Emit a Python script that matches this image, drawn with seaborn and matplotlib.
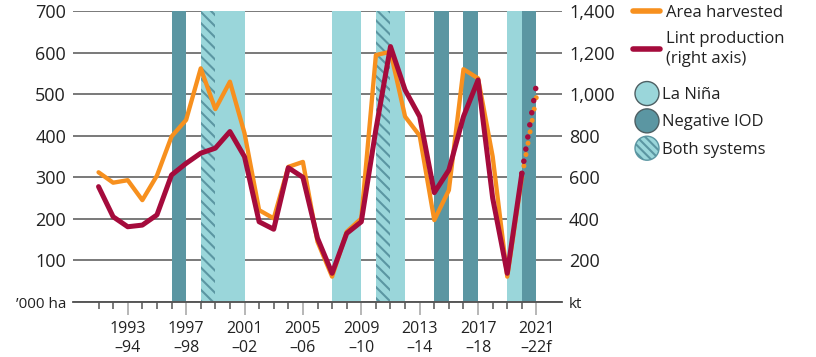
import numpy as np
import pandas as pd
import matplotlib
matplotlib.use("Agg")
import matplotlib.pyplot as plt
import matplotlib.patches as mpatches
from matplotlib.lines import Line2D
from matplotlib.legend_handler import HandlerPatch
import seaborn as sns

# data
years = list(range(1991, 2021))
area_ha = [312, 287, 293, 245, 304, 398, 438, 562, 464, 530, 406, 221, 201, 325, 337,
           145, 61, 169, 201, 594, 602, 446, 400, 197, 269, 560, 538, 350, 61, 300]
lint_kt = [555, 410, 362, 370, 419, 611, 667, 716, 740, 820, 699, 386, 350, 646, 600,
           307, 138, 330, 386, 830, 1229, 1020, 892, 526, 635, 892, 1068, 500, 138, 619]
fc_years = [2020, 2021]
fc_area = [300, 494]
fc_lint = [619, 1049]

# climate episodes (start year of each one-year band)
la_nina = [1999, 2000, 2007, 2008, 2011, 2019]
neg_iod = [1996, 2014, 2016, 2020]
both = [1998, 2010]

tick_years = list(range(1993, 2022, 4))
tick_labels = ["1993\n–94", "1997\n–98", "2001\n–02", "2005\n–06", "2009\n–10",
               "2013\n–14", "2017\n–18", "2021\n–22f"]

ORANGE = "#F7901E"
RED = "#A50B3C"
LIGHT = "#9AD6DA"
DARK = "#5B96A2"
TXT = "#222222"

sns.set_style("white")
plt.rcParams["font.family"] = ["Open Sans", "DejaVu Sans"]
plt.rcParams["hatch.linewidth"] = 1.5

fig = plt.figure(figsize=(8.16, 3.57), dpi=100)
ax = fig.add_axes([73 / 816, 1 - 302 / 357, (562 - 73) / 816, (302 - 11) / 357])
ax2 = ax.twinx()

for y0 in la_nina:
    ax.axvspan(y0, y0 + 1, facecolor=LIGHT, lw=0, zorder=1)
for y0 in neg_iod:
    ax.axvspan(y0, y0 + 1, facecolor=DARK, lw=0, zorder=1)
for y0 in both:
    ax.axvspan(y0, y0 + 1, facecolor=LIGHT, edgecolor=DARK, hatch="\\\\\\", lw=0, zorder=1)

df = pd.DataFrame({"year": years, "area": area_ha, "lint": lint_kt})
fc = pd.DataFrame({"year": fc_years, "area": fc_area, "lint": fc_lint})

sns.lineplot(data=df, x="year", y="area", ax=ax, color=ORANGE, lw=3.1, zorder=3)
sns.lineplot(data=fc, x="year", y="area", ax=ax, color=ORANGE, lw=3.6, zorder=3,
             linestyle=(0, (0.01, 2.3)), dash_capstyle="round")
sns.lineplot(data=df, x="year", y="lint", ax=ax2, color=RED, lw=3.6, zorder=3)
sns.lineplot(data=fc, x="year", y="lint", ax=ax2, color=RED, lw=4.0, zorder=3,
             linestyle=(0, (0.01, 2.2)), dash_capstyle="round")

ax.set_xlim(1989.25, 2022.75)
ax.set_ylim(0, 700)
ax2.set_ylim(0, 1400)

ax.set_yticks(range(0, 701, 100))
ax.set_yticklabels(["’000 ha"] + [str(v) for v in range(100, 701, 100)])
ax2.set_yticks(range(0, 1401, 200))
ax2.set_yticklabels(["kt"] + [f"{v:,}" for v in range(200, 1401, 200)])

ax.set_xticks(tick_years)
ax.set_xticklabels(tick_labels, linespacing=1.2)
ax.set_xticks(range(1991, 2022), minor=True)

ax.grid(axis="y", color="#555555", lw=1.1, zorder=0.5)
ax.set_axisbelow(True)
ax.grid(axis="x", visible=False)

for a in (ax, ax2):
    for s in ("left", "right", "top"):
        a.spines[s].set_visible(False)
    a.spines["bottom"].set_color("#555555")
    a.spines["bottom"].set_linewidth(1.1)
    a.set_xlabel("")
    a.set_ylabel("")

ax.tick_params(axis="y", length=0, pad=5, labelsize=13, labelcolor=TXT)
ax2.tick_params(axis="y", length=0, pad=5, labelsize=13, labelcolor=TXT)
ax.get_yticklabels()[0].set_fontsize(11)
ax2.get_yticklabels()[0].set_fontsize(11)
ax.tick_params(axis="x", which="both", bottom=True)
ax.tick_params(axis="x", which="major", length=9, width=1.2, color="#AAAAAA",
               labelsize=11.5, labelcolor=TXT, pad=5)
ax.tick_params(axis="x", which="minor", length=5, width=1.1, color="#555555")

# legend: lines
line_handles = [Line2D([], [], color=ORANGE, lw=4.0),
                Line2D([], [], color=RED, lw=4.0)]
leg1 = fig.legend(line_handles, ["Area harvested", "Lint production\n(right axis)"],
                  loc="upper left", bbox_to_anchor=(633 / 816, 1 - 5 / 357),
                  frameon=False, fontsize=12, handlelength=1.6, handletextpad=0.35,
                  labelspacing=0.62, borderpad=0, borderaxespad=0, labelcolor=TXT)
for t in leg1.get_texts():
    t.set_linespacing(1.3)


def make_circle(legend, orig_handle, xdescent, ydescent, width, height, fontsize):
    r = 0.72 * fontsize
    return mpatches.Circle((width / 2 - xdescent, height / 2 - ydescent), r)


circ_handles = [mpatches.Circle((0, 0), 1, facecolor=LIGHT, edgecolor="#4d5f63", lw=1.0),
                mpatches.Circle((0, 0), 1, facecolor=DARK, edgecolor="#4d5f63", lw=1.0),
                mpatches.Circle((0, 0), 1, facecolor=LIGHT, edgecolor=DARK, lw=1.0,
                                hatch="\\\\\\\\")]
leg2 = fig.legend(circ_handles, ["La Niña", "Negative IOD", "Both systems"],
                  loc="upper left", bbox_to_anchor=(637 / 816, 1 - 85 / 357),
                  frameon=False, fontsize=12, handlelength=1.2, handleheight=1.2,
                  handletextpad=0.3, labelspacing=0.55, borderpad=0, borderaxespad=0,
                  labelcolor=TXT,
                  handler_map={mpatches.Circle: HandlerPatch(patch_func=make_circle)})

fig.savefig("out.png", dpi=100)
